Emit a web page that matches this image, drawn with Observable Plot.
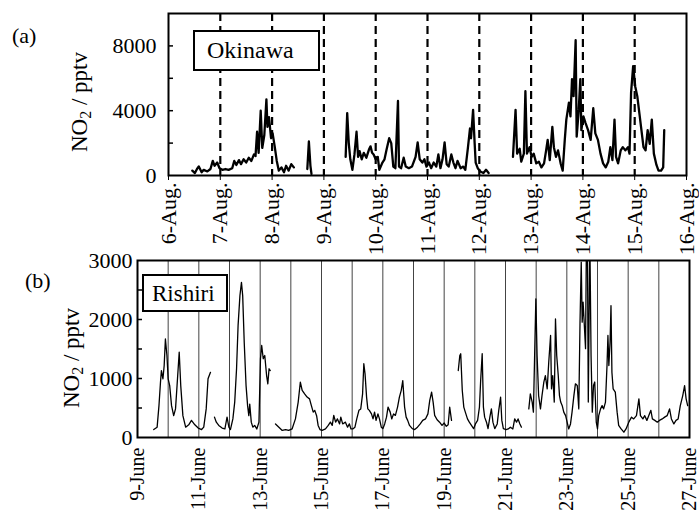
<!DOCTYPE html>
<html><head><meta charset="utf-8">
<script src="https://cdn.jsdelivr.net/npm/d3@7"></script>
<script src="https://cdn.jsdelivr.net/npm/@observablehq/plot@0.6"></script>
<style>
body{margin:0;background:#fff;}
#chart{position:relative;width:699px;height:515px;font-family:"Liberation Serif","Times New Roman",serif;color:#000;overflow:hidden;}
#chart svg{position:absolute;left:0;}
.lbl{position:absolute;line-height:1;white-space:nowrap;}
.box{position:absolute;border:2.5px solid #000;box-sizing:border-box;background:#fff;}
.ytitle{position:absolute;font-size:23px;line-height:1;white-space:nowrap;transform:translate(-50%,-50%) rotate(-90deg);}
.ytitle sub{font-size:16px;vertical-align:-4px;line-height:0;}
</style></head><body><div id="chart"></div>
<script>
// ---------- Okinawa (a) ----------
const okinawaStartDay = 6; // 6 August
const okinawaTickDays = [6,7,8,9,10,11,12,13,14,15,16];
const okinawaTickLabels = ["6-Aug.","7-Aug.","8-Aug.","9-Aug.","10-Aug.","11-Aug.","12-Aug.","13-Aug.","14-Aug.","15-Aug.","16-Aug."];
const okinawaDayLines = [7,8,9,10,11,12,13,14,15];
const okinawaYTicks = [0,4000,8000];
const okinawaYMinor = [2000,4000,6000,8000];
// time offsets (days from 6-Aug 00:00) and NO2 (pptv); null = data gap
const okinawaOffset = [
0.46,0.51,0.55,0.585,0.64,0.68,0.75,0.81,0.855,0.89,0.94,0.985,1.04,1.10,1.16,1.23,1.27,1.31,1.36,1.40,1.45,1.50,1.55,1.60,1.65,1.68,1.71,1.74,1.78,1.81,1.85,1.89,1.91,1.94,1.98,2.01,2.05,2.09,2.13,2.18,2.23,2.27,2.32,2.37,2.42,
2.55,
2.68,2.71,2.74,2.76,
3.10,
3.42,3.45,3.48,3.51,3.55,3.59,3.63,3.66,3.69,3.73,3.77,3.82,3.87,3.90,3.93,3.96,4.00,4.04,4.07,4.13,4.17,4.21,4.26,4.30,4.34,4.38,4.43,4.45,4.49,4.54,4.58,4.64,4.70,4.77,4.81,4.85,4.90,4.94,4.98,5.03,5.07,5.12,5.17,5.21,5.25,5.29,5.33,5.37,5.41,5.46,5.50,5.54,5.58,5.64,5.69,5.73,5.78,5.82,5.84,5.88,5.91,5.93,5.97,6.02,6.08,6.13,6.18,
6.40,
6.65,6.70,6.73,6.78,6.81,6.86,6.89,6.92,6.97,7.01,7.05,7.10,7.15,7.20,7.25,7.29,7.32,7.36,7.41,7.44,7.48,7.52,7.57,7.61,7.65,7.68,7.73,7.76,7.79,7.82,7.86,7.88,7.92,7.95,7.97,8.01,8.05,8.10,8.15,8.20,8.24,8.29,8.34,8.39,8.44,8.49,8.53,8.57,8.61,8.64,8.68,8.73,8.77,8.82,8.87,8.90,8.93,8.97,9.01,9.05,9.09,9.13,9.17,9.21,9.25,9.29,9.33,9.37,9.42,9.46,9.51,9.55,9.57
];
const okinawaNO2 = [
300,150,400,560,200,350,250,400,900,600,800,450,350,400,350,450,900,650,950,700,1000,800,1100,900,1300,1200,2700,1400,4000,1700,2500,4700,3000,3600,2300,2600,1800,900,300,500,200,600,300,700,500,
null,
400,2100,600,100,
null,
1150,3850,2000,1000,350,1300,2700,1150,1500,1000,1400,1100,1600,1800,1400,1300,1000,1150,350,800,1000,1600,2300,2000,550,450,4600,550,450,1100,550,450,550,1150,2050,1000,800,1000,550,800,450,800,550,1300,450,1000,2050,700,550,1300,800,450,900,450,550,350,1700,2900,2300,4050,2000,800,450,250,150,350,150,
null,
1150,4050,1350,1650,850,1350,5200,1350,1750,1150,1350,750,850,500,750,1550,2200,950,3000,1750,1150,1550,750,300,2200,3450,4500,3650,5950,4900,8350,2400,4050,5950,2800,3650,3250,2800,2200,4150,2600,2200,1350,750,500,850,1750,950,3450,1150,750,1550,1750,1550,1750,1350,5100,6750,5500,4900,3850,2800,1750,1550,2800,1950,3450,1350,650,300,300,500,2800
];

// ---------- Rishiri (b) ----------
const rishiriStartDay = 9; // 9 June
const rishiriTickDays = [9,11,13,15,17,19,21,23,25,27];
const rishiriTickLabels = ["9-June","11-June","13-June","15-June","17-June","19-June","21-June","23-June","25-June","27-June"];
const rishiriDayLines = [10,11,12,13,14,15,16,17,18,19,20,21,22,23,24,25,26];
const rishiriYTicks = [0,1000,2000,3000];
const rishiriYMinor = [500,1000,1500,2000,2500];
const rishiriOffset = [
0.53,0.64,0.70,0.75,0.78,0.83,0.87,0.91,0.96,1.00,1.05,1.11,1.18,1.24,1.29,1.36,1.41,1.48,1.57,1.67,1.76,1.87,1.98,2.09,2.16,2.24,2.30,2.38,
2.45,
2.51,2.57,2.65,2.76,2.85,2.92,2.98,3.03,3.11,3.17,3.23,3.28,3.34,3.39,3.43,3.48,3.54,3.59,3.63,3.66,3.71,3.76,3.82,3.89,3.96,4.01,4.05,4.10,4.15,4.21,4.25,4.29,4.33,
4.40,
4.50,4.61,4.72,4.83,4.93,5.04,5.15,5.24,5.31,5.37,5.45,5.53,5.61,5.67,5.73,5.78,5.84,5.89,5.95,6.02,6.13,6.22,6.29,6.35,6.40,6.46,6.52,6.59,6.63,6.69,6.78,6.85,6.91,6.96,7.02,7.09,7.15,7.22,7.28,7.34,7.38,7.42,7.47,7.51,7.56,7.63,7.68,7.73,7.78,7.84,7.89,7.95,8.00,8.06,8.12,8.17,8.24,8.29,8.35,8.41,8.48,8.54,8.60,8.65,8.71,8.76,8.81,8.87,8.96,9.04,9.13,9.22,9.30,9.39,9.47,9.53,9.59,9.64,9.69,9.77,9.85,9.93,10.00,10.07,10.13,10.18,10.24,
10.35,
10.46,10.51,10.54,10.59,10.64,10.69,10.76,10.82,10.89,10.96,11.02,11.09,11.15,11.19,11.24,11.28,11.32,11.38,11.43,11.49,11.54,11.59,11.65,11.73,11.78,11.84,11.88,11.93,12.02,12.09,12.16,12.24,12.30,12.36,12.41,12.47,12.52,
12.65,
12.76,12.81,12.87,12.91,12.95,12.99,13.03,13.08,13.14,13.19,13.25,13.30,13.36,13.41,13.47,13.50,13.54,13.59,13.63,13.67,13.72,13.76,13.80,13.85,13.90,13.96,14.01,14.06,14.12,14.17,14.23,14.28,14.34,14.39,14.43,14.47,14.50,14.53,14.56,14.61,14.64,14.67,14.70,14.75,14.79,14.83,14.87,14.91,14.96,15.00,15.04,15.10,15.15,15.20,15.26,15.31,15.34,15.37,15.41,15.44,15.47,15.51,15.58,15.64,15.69,15.77,15.86,15.93,16.02,16.11,16.18,16.27,16.35,16.40,16.48,16.54,16.61,16.67,16.74,16.79,16.87,16.95,17.02,17.11,17.19,17.27,17.35,17.41,17.49,17.56,17.63,17.70,17.78,17.84,17.89,17.94
];
const rishiriNO2 = [
135,175,540,940,1135,995,1220,1670,1390,995,880,540,370,485,880,1445,880,370,175,215,290,215,160,135,175,485,995,1105,
null,
345,260,205,160,145,345,175,135,315,600,1165,1900,2405,2630,2405,1615,880,540,370,565,260,175,205,145,260,1335,1560,1335,1390,1050,910,1165,1135,
null,
230,175,120,135,120,145,315,600,940,800,740,685,655,540,430,460,370,205,135,120,145,205,260,205,375,260,315,230,345,230,260,175,230,145,145,175,315,460,485,740,1250,1080,685,485,460,400,315,430,290,400,315,175,150,230,345,515,430,315,400,375,515,685,800,965,515,345,290,205,150,135,175,230,290,315,400,630,770,600,375,300,260,205,245,190,215,515,290,
null,
1135,1390,1420,800,515,430,315,260,205,150,230,290,515,965,1420,515,345,260,150,345,485,260,150,230,460,685,290,150,135,145,175,145,315,260,315,230,175,
null,
485,740,600,430,1390,2350,1390,710,485,710,940,1050,825,1275,1730,825,1050,600,2010,1390,1050,710,600,540,430,370,260,145,230,430,710,910,880,485,1955,2970,1955,2295,2010,1505,3400,3400,600,3400,1390,430,880,940,260,145,370,485,540,485,600,1220,1730,1220,1615,2235,1105,825,770,430,205,145,90,145,260,345,315,370,655,370,315,370,290,370,460,315,290,260,290,315,345,370,485,315,230,290,315,540,710,880,655,540
];

const okinawa = okinawaOffset.map((t, i) => ({day: okinawaStartDay + t, no2: okinawaNO2[i]}));
const rishiri = rishiriOffset.map((t, i) => ({day: rishiriStartDay + t, no2: rishiriNO2[i]}));

const baseStyle = {fontFamily: '"Liberation Serif","Times New Roman",serif', fontSize: "22px", color: "#000", background: "transparent", overflow: "visible"};

const topW = 699, topML = 168, topMR = 13;
const topPlot = Plot.plot({
  width: topW, height: 250,
  marginLeft: topML, marginRight: topMR, marginTop: 13, marginBottom: 75,
  style: baseStyle,
  x: {domain: [okinawaTickDays[0], okinawaTickDays[okinawaTickDays.length - 1]], label: null},
  y: {domain: [0, 10000], label: null},
  marks: [
    Plot.ruleX(okinawaDayLines, {stroke: "#000", strokeWidth: 2.2, strokeDasharray: "8,5"}),
    Plot.line(okinawa, {x: "day", y: "no2", stroke: "#000", strokeWidth: 2.3, clip: true}),
    Plot.tickY(okinawaYMinor, {stroke: "#000", strokeWidth: 1.5, insetRight: topW - topML - topMR - 5}),
    Plot.axisY({ticks: okinawaYTicks, tickFormat: d => String(d), tickSize: 0, tickPadding: 12, fontSize: 22, label: null}),
    Plot.axisX({ticks: okinawaTickDays, tickFormat: d => okinawaTickLabels[okinawaTickDays.indexOf(d)], tickRotate: -90, tickSize: 5, tickPadding: 2, fontSize: 22, label: null}),
    Plot.frame({stroke: "#000", strokeWidth: 2})
  ]
});
topPlot.style.top = "0px";

const botW = 699, botML = 137, botMR = 10;
const botPlot = Plot.plot({
  width: botW, height: 265,
  marginLeft: botML, marginRight: botMR, marginTop: 10, marginBottom: 78,
  style: baseStyle,
  x: {domain: [rishiriTickDays[0], rishiriTickDays[rishiriTickDays.length - 1]], label: null},
  y: {domain: [0, 3000], label: null},
  marks: [
    Plot.ruleX(rishiriDayLines, {stroke: "#444", strokeWidth: 1}),
    Plot.line(rishiri, {x: "day", y: "no2", stroke: "#000", strokeWidth: 1.3, clip: true}),
    Plot.tickY(rishiriYMinor, {stroke: "#000", strokeWidth: 1.5, insetRight: botW - botML - botMR - 5}),
    Plot.axisY({ticks: rishiriYTicks, tickFormat: d => String(d), tickSize: 0, tickPadding: 5, fontSize: 22, label: null}),
    Plot.axisX({ticks: rishiriTickDays, tickFormat: d => rishiriTickLabels[rishiriTickDays.indexOf(d)], tickRotate: -90, tickSize: 0, tickPadding: 10, fontSize: 20, label: null}),
    Plot.frame({stroke: "#000", strokeWidth: 2})
  ]
});
botPlot.style.top = "250px";

const chart = document.getElementById("chart");
chart.appendChild(topPlot);
chart.appendChild(botPlot);

function addLabel(html, cls, css) {
  const el = document.createElement("div");
  el.className = cls;
  el.innerHTML = html;
  Object.assign(el.style, css);
  chart.appendChild(el);
  return el;
}
// panel letters
addLabel("(a)", "lbl", {left: "12px", top: "25px", fontSize: "22px"});
addLabel("(b)", "lbl", {left: "25px", top: "270px", fontSize: "22px"});
// site boxes
addLabel("", "box", {left: "193px", top: "30px", width: "127px", height: "41px"});
addLabel("Okinawa", "lbl", {left: "207px", top: "38px", fontSize: "24px"});
addLabel("", "box", {left: "142px", top: "274px", width: "86px", height: "38px"});
addLabel("Rishiri", "lbl", {left: "152px", top: "282px", fontSize: "23px"});
// y-axis titles
addLabel("NO<sub>2</sub> / pptv", "ytitle", {left: "79px", top: "102px"});
addLabel("NO<sub>2</sub> / pptv", "ytitle", {left: "71px", top: "358px"});
</script>
</body></html>
